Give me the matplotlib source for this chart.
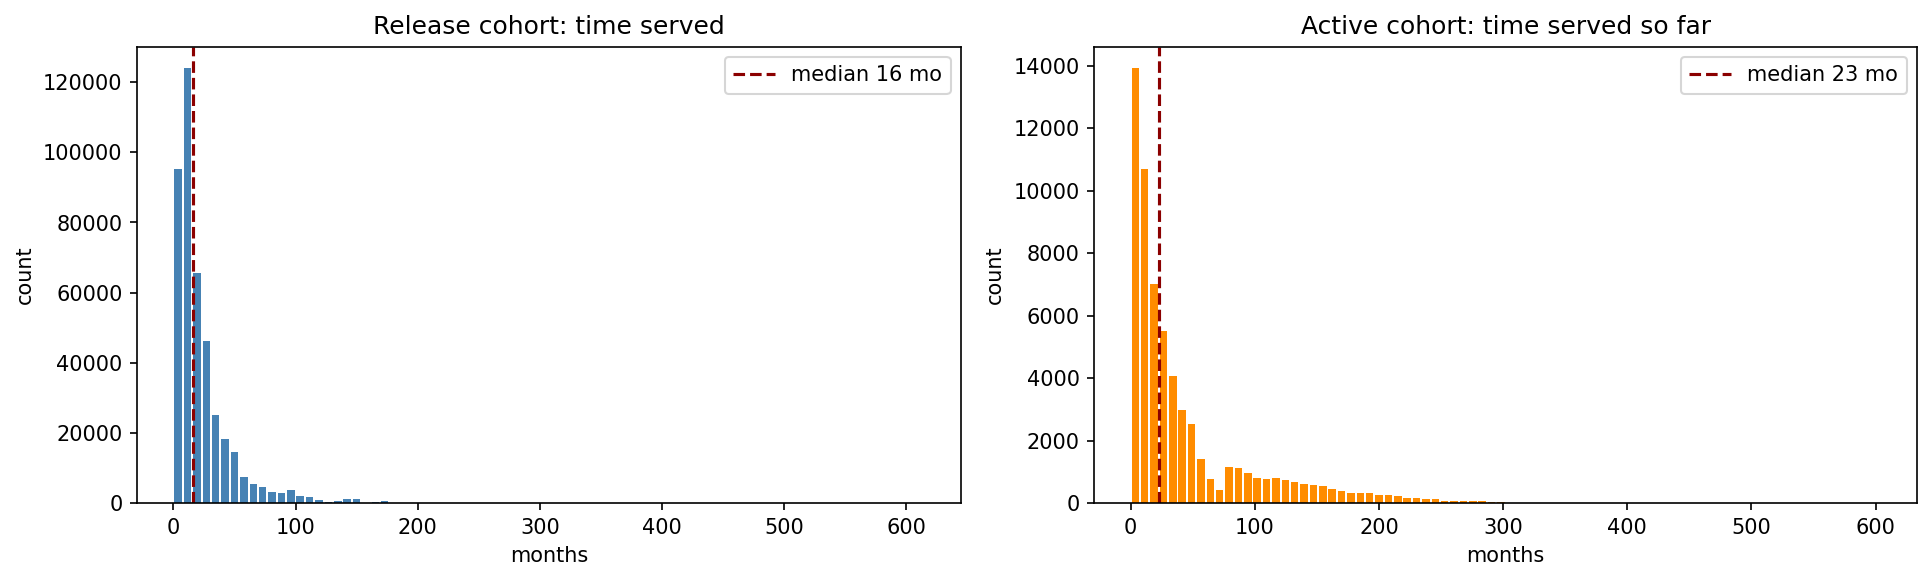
import numpy as np
import matplotlib.pyplot as plt

# Histogram counts (80 bins each, long tails ~0)
release_counts = [95100, 123900, 65700, 46300, 25200, 18350, 14650, 7500,
                  5500, 4650, 3230, 2950, 3800, 2090, 1800, 950,
                  380, 670, 1240, 1240, 60, 380, 670] + [0] * 57
active_counts = [13910, 10700, 7020, 5520, 4080, 2990, 2540, 1420,
                 780, 430, 1160, 1130, 970, 810, 780, 810,
                 750, 680, 620, 590, 555, 460, 395, 330,
                 330, 330, 270, 270, 235, 170, 170, 140,
                 140, 75, 75, 75, 75, 75, 43, 43] + [0] * 40

release_max = 615  # months, upper bin edge
active_max = 604
release_median = 16
active_median = 23

fig = plt.figure(figsize=(12.88, 3.894), dpi=150)
ax1 = fig.add_axes([0.0709, 0.1382, 0.4265, 0.7818])
ax2 = fig.add_axes([0.5663, 0.1382, 0.4260, 0.7818])


def draw_hist(ax, counts, max_edge, median, color, title):
    edges = np.linspace(0, max_edge, len(counts) + 1)
    bw = edges[1] - edges[0]
    centers = (edges[:-1] + edges[1:]) / 2
    ax.bar(centers, counts, width=0.8 * bw, color=color)
    ax.axvline(median, color="darkred", linestyle="--", label=f"median {median} mo")
    ax.set_title(title, fontsize=12)
    ax.set_xlabel("months")
    ax.set_ylabel("count")
    ax.legend(loc="upper right")


draw_hist(ax1, release_counts, release_max, release_median, "steelblue",
          "Release cohort: time served")
draw_hist(ax2, active_counts, active_max, active_median, "darkorange",
          "Active cohort: time served so far")

fig.savefig("out.png", dpi=150)
